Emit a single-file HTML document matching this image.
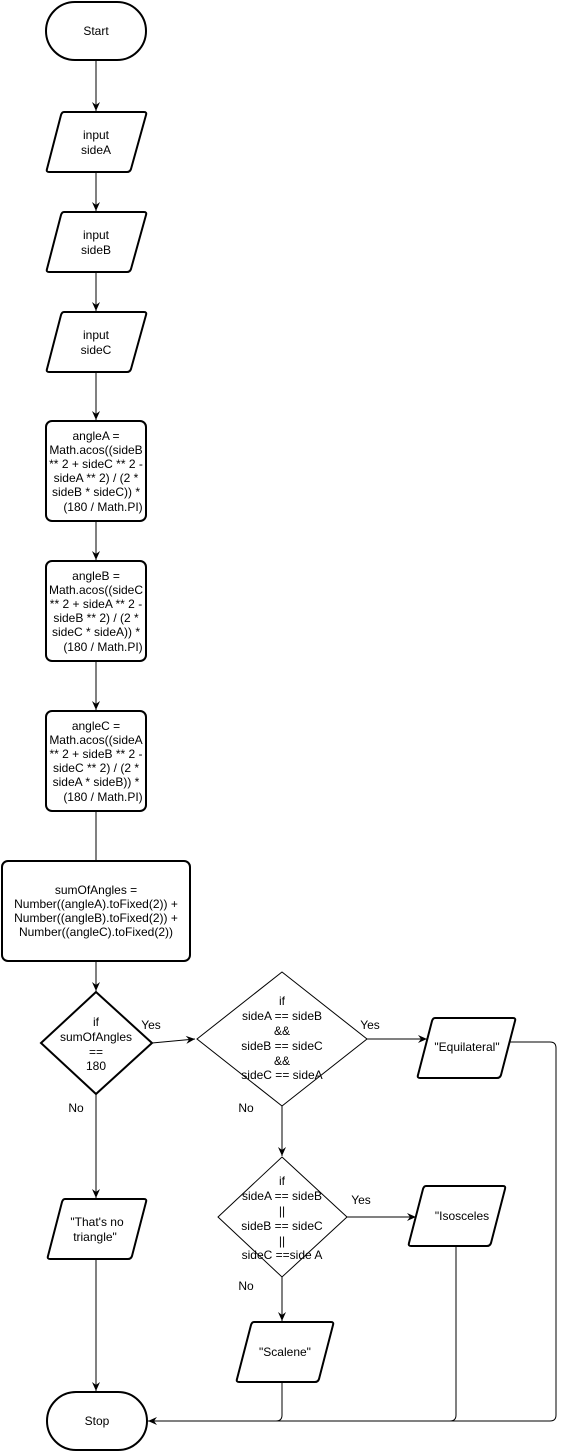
<!DOCTYPE html>
<html><head><meta charset="utf-8"><style>
html,body{margin:0;padding:0;background:#fff;}
svg{display:block;}
text{font-family:"Liberation Sans",sans-serif;font-size:12px;fill:#000;text-anchor:middle;}
.s{fill:#fff;stroke:#000;stroke-width:2;}
.t{fill:#fff;stroke:#000;stroke-width:1;}
.l{fill:none;stroke:#000;stroke-width:1;}
</style></head><body>
<svg width="566" height="1452" viewBox="0 0 566 1452">
<defs><marker id="a" markerWidth="10" markerHeight="10" refX="9" refY="5" orient="auto" markerUnits="userSpaceOnUse"><path d="M0,1 L9,5 L0,9 L3,5 Z" fill="#000"/></marker></defs>
<!-- connectors -->
<path class="l" d="M96,60 V111" marker-end="url(#a)"/>
<path class="l" d="M96,172 V211" marker-end="url(#a)"/>
<path class="l" d="M96,272 V311" marker-end="url(#a)"/>
<path class="l" d="M96,372 V420" marker-end="url(#a)"/>
<path class="l" d="M96,521 V560" marker-end="url(#a)"/>
<path class="l" d="M96,661 V710" marker-end="url(#a)"/>
<path class="l" d="M96,811 V861"/>
<path class="l" d="M96,961 V991" marker-end="url(#a)"/>
<path class="l" d="M152,1043 L195,1039" marker-end="url(#a)"/>
<path class="l" d="M367,1039 H427" marker-end="url(#a)"/>
<path class="l" d="M96,1094 V1198" marker-end="url(#a)"/>
<path class="l" d="M282,1106 V1156" marker-end="url(#a)"/>
<path class="l" d="M347,1217 H416" marker-end="url(#a)"/>
<path class="l" d="M282,1277 V1321" marker-end="url(#a)"/>
<path class="l" d="M96,1259 V1391" marker-end="url(#a)"/>
<path class="l" d="M509,1042 H550 Q556,1042 556,1048 V1415 Q556,1421 550,1421 H148" marker-end="url(#a)"/>
<path class="l" d="M456,1246 V1415 Q456,1421 450,1421"/>
<path class="l" d="M282,1382 V1415 Q282,1421 276,1421"/>
<!-- shapes -->
<rect class="s" x="46" y="2" width="100" height="58" rx="29"/>
<text x="96" y="35">Start</text>
<path class="s" d="M64,112 H144 Q147,112 146,115 L131,169 Q130,172 127,172 H49 Q46,172 47,169 L61,115 Q62,112 64,112 Z"/>
<text x="96" y="139">input</text><text x="96" y="154">sideA</text>
<path class="s" d="M64,212 H144 Q147,212 146,215 L131,269 Q130,272 127,272 H49 Q46,272 47,269 L61,215 Q62,212 64,212 Z"/>
<text x="96" y="239">input</text><text x="96" y="254">sideB</text>
<path class="s" d="M64,312 H144 Q147,312 146,315 L131,369 Q130,372 127,372 H49 Q46,372 47,369 L61,315 Q62,312 64,312 Z"/>
<text x="96" y="339">input</text><text x="96" y="354">sideC</text>

<rect class="s" x="46" y="421" width="100" height="100" rx="6"/>
<text x="96" y="440">angleA =</text><text x="96" y="454">Math.acos((sideB</text><text x="96" y="468">** 2 + sideC ** 2 -</text><text x="96" y="482">sideA ** 2) / (2 *</text><text x="96" y="496">sideB * sideC)) *</text><text x="103" y="511">(180 / Math.PI)</text>
<rect class="s" x="46" y="561" width="100" height="100" rx="6"/>
<text x="96" y="580">angleB =</text><text x="96" y="594">Math.acos((sideC</text><text x="96" y="608">** 2 + sideA ** 2 -</text><text x="96" y="622">sideB ** 2) / (2 *</text><text x="96" y="636">sideC * sideA)) *</text><text x="103" y="651">(180 / Math.PI)</text>
<rect class="s" x="46" y="711" width="100" height="100" rx="6"/>
<text x="96" y="730">angleC =</text><text x="96" y="744">Math.acos((sideA</text><text x="96" y="758">** 2 + sideB ** 2 -</text><text x="96" y="772">sideC ** 2) / (2 *</text><text x="96" y="786">sideA * sideB)) *</text><text x="103" y="801">(180 / Math.PI)</text>

<rect class="s" x="2" y="861" width="188" height="100" rx="6"/>
<text x="96" y="894">sumOfAngles =</text><text x="96" y="908">Number((angleA).toFixed(2)) +</text><text x="96" y="922">Number((angleB).toFixed(2)) +</text><text x="96" y="936">Number((angleC).toFixed(2))</text>

<path class="s" d="M96,992 L152,1043 L96,1094 L41,1043 Z"/>
<text x="96" y="1026">if</text><text x="96" y="1041">sumOfAngles</text><text x="96" y="1056">==</text><text x="96" y="1070">180</text>
<text x="151" y="1029">Yes</text>
<text x="76" y="1112">No</text>

<path class="t" d="M282,972 L367,1039 L282,1106 L197,1039 Z"/>
<text x="282" y="1005">if</text><text x="282" y="1020">sideA == sideB</text><text x="282" y="1035">&amp;&amp;</text><text x="282" y="1050">sideB == sideC</text><text x="282" y="1065">&amp;&amp;</text><text x="282" y="1079">sideC == sideA</text>
<text x="370" y="1029">Yes</text>
<text x="246" y="1112">No</text>

<path class="s" d="M435,1018 H513 Q516,1018 515,1021 L501,1075 Q500,1078 497,1078 H420 Q417,1078 418,1075 L432,1021 Q433,1018 435,1018 Z"/>
<text x="467" y="1051">"Equilateral"</text>

<path class="t" d="M282,1157 L347,1217 L282,1277 L218,1217 Z"/>
<text x="282" y="1185">if</text><text x="282" y="1200">sideA == sideB</text><text x="282" y="1215">||</text><text x="282" y="1230">sideB == sideC</text><text x="282" y="1245">||</text><text x="282" y="1259">sideC ==side A</text>
<text x="361" y="1204">Yes</text>
<text x="246" y="1290">No</text>

<path class="s" d="M426,1186 H503 Q506,1186 505,1189 L491,1243 Q490,1246 487,1246 H411 Q408,1246 409,1243 L423,1189 Q424,1186 426,1186 Z"/>
<text x="462" y="1220">"Isosceles</text>

<path class="s" d="M65,1199 H144 Q147,1199 146,1202 L132,1256 Q131,1259 128,1259 H50 Q47,1259 48,1256 L62,1202 Q63,1199 65,1199 Z"/>
<text x="97" y="1226">"That's no</text><text x="95" y="1241">triangle"</text>

<path class="s" d="M254,1322 H331 Q334,1322 333,1325 L319,1379 Q318,1382 315,1382 H239 Q236,1382 237,1379 L251,1325 Q252,1322 254,1322 Z"/>
<text x="285" y="1356">"Scalene"</text>

<rect class="s" x="47" y="1392" width="100" height="58" rx="29"/>
<text x="97" y="1425">Stop</text>
</svg>
</body></html>
